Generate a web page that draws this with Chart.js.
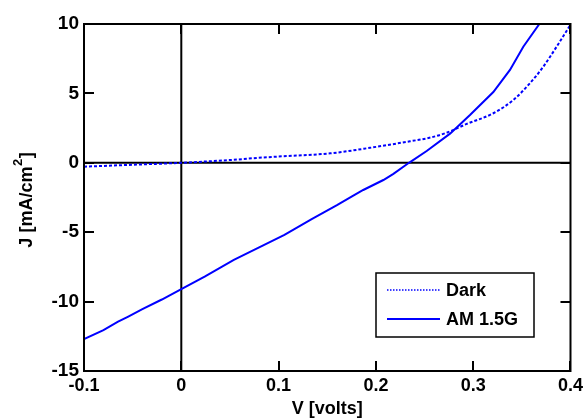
<!DOCTYPE html>
<html>
<head>
<meta charset="utf-8">
<script src="https://cdn.jsdelivr.net/npm/chart.js@4/dist/chart.umd.min.js"></script>
<style>
  body { margin: 0; background: #fff; }
  canvas { display: block; }
</style>
</head>
<body>
<canvas id="ivChart" width="587" height="418"></canvas>
<script>
// Courbes J-V (dark / AM 1.5G)
const seriesNames = ["Dark", "AM 1.5G"];

const darkV = [-0.1, -0.05, 0, 0.05, 0.084, 0.1, 0.153, 0.194, 0.235, 0.255, 0.272, 0.2933, 0.3207, 0.3412, 0.3583, 0.372, 0.3857, 0.4];
const darkJ = [-0.28, -0.14, 0, 0.2, 0.38, 0.45, 0.68, 1.08, 1.55, 1.8, 2.15, 2.8, 3.57, 4.52, 5.73, 6.92, 8.36, 9.95];

const lightV = [-0.1, -0.08, -0.065, -0.055, -0.04, -0.02, 0, 0.024, 0.054, 0.08, 0.106, 0.134, 0.16, 0.175, 0.187, 0.2077, 0.218, 0.234, 0.2522, 0.2762, 0.2967, 0.3207, 0.3378, 0.3515, 0.368, 0.372];
const lightJ = [-12.7, -12.05, -11.45, -11.1, -10.55, -9.85, -9.1, -8.2, -7.0, -6.1, -5.2, -4.05, -3.05, -2.44, -1.96, -1.24, -0.8, 0.0, 0.85, 2.1, 3.44, 5.1, 6.69, 8.36, 10.0, 10.4];

const xTickValues = [-0.1, 0, 0.1, 0.2, 0.3, 0.4];
const xTickLabels = ["-0.1", "0", "0.1", "0.2", "0.3", "0.4"];
const yTickValues = [-15, -10, -5, 0, 5, 10];
const yTickLabels = ["-15", "-10", "-5", "0", "5", "10"];

const FONT = "'Liberation Sans', Arial, Helvetica, sans-serif";
const BLUE = "rgb(0,0,255)";

function toPoints(xs, ys) {
    return xs.map((x, i) => ({ x: x, y: ys[i] }));
}

// Cadre, axes à zéro, graduations intérieures, titre Y et légende
const axesPlugin = {
    id: "matlabAxes",
    beforeDatasetsDraw(chart) {
        const { ctx, chartArea: a, scales } = chart;
        const x0 = scales.x.getPixelForValue(0);
        const y0 = scales.y.getPixelForValue(0);
        ctx.save();
        ctx.strokeStyle = "#000";
        ctx.lineWidth = 2;
        ctx.beginPath();
        ctx.moveTo(x0, a.top); ctx.lineTo(x0, a.bottom);
        ctx.moveTo(a.left, y0); ctx.lineTo(a.right, y0);
        ctx.stroke();
        ctx.restore();
    },
    afterDatasetsDraw(chart) {
        const { ctx, chartArea: a, scales } = chart;
        const len = 10;
        ctx.save();
        ctx.strokeStyle = "#000";
        ctx.lineWidth = 2;
        ctx.strokeRect(a.left, a.top, a.right - a.left, a.bottom - a.top);
        ctx.beginPath();
        xTickValues.forEach(v => {
            const px = Math.round(scales.x.getPixelForValue(v));
            ctx.moveTo(px, a.bottom); ctx.lineTo(px, a.bottom - len);
            ctx.moveTo(px, a.top); ctx.lineTo(px, a.top + len);
        });
        yTickValues.forEach(v => {
            const py = Math.round(scales.y.getPixelForValue(v));
            ctx.moveTo(a.left, py); ctx.lineTo(a.left + len, py);
            ctx.moveTo(a.right, py); ctx.lineTo(a.right - len, py);
        });
        ctx.stroke();

        // titre de l'axe Y avec exposant
        ctx.fillStyle = "#000";
        ctx.textBaseline = "alphabetic";
        ctx.textAlign = "left";
        const main = "J [mA/cm";
        const sup = "2";
        const end = "]";
        ctx.font = "bold 18px " + FONT;
        const wMain = ctx.measureText(main).width;
        const wEnd = ctx.measureText(end).width;
        ctx.font = "bold 13px " + FONT;
        const wSup = ctx.measureText(sup).width;
        const total = wMain + wSup + wEnd;
        const cy = (a.top + a.bottom) / 2 + 3;
        ctx.translate(32, cy + total / 2);
        ctx.rotate(-Math.PI / 2);
        ctx.font = "bold 18px " + FONT;
        ctx.fillText(main, 0, 0);
        ctx.font = "bold 13px " + FONT;
        ctx.fillText(sup, wMain + 0.5, -10);
        ctx.font = "bold 18px " + FONT;
        ctx.fillText(end, wMain + wSup + 1, 0);
        ctx.setTransform(1, 0, 0, 1, 0, 0);

        // légende dans la zone du graphique
        const bx = 376, by = 273, bw = 158, bh = 64;
        ctx.fillStyle = "#fff";
        ctx.fillRect(bx, by, bw, bh);
        ctx.lineWidth = 1.5;
        ctx.strokeStyle = "#000";
        ctx.strokeRect(bx, by, bw, bh);
        chart.data.datasets.forEach((ds, i) => {
            const ry = by + 17 + i * 29;
            ctx.beginPath();
            ctx.strokeStyle = ds.borderColor;
            ctx.lineWidth = i === 0 ? 1.5 : 2;
            ctx.setLineDash(i === 0 ? [1.5, 1.5] : []);
            ctx.moveTo(bx + 11, ry);
            ctx.lineTo(bx + 64, ry);
            ctx.stroke();
            ctx.setLineDash([]);
            ctx.fillStyle = "#000";
            ctx.font = "bold 18px " + FONT;
            ctx.textBaseline = "middle";
            ctx.fillText(ds.label, bx + 70, ry + 1);
        });
        ctx.restore();
    }
};

const ctx = document.getElementById("ivChart").getContext("2d");

const ivChart = new Chart(ctx, {
    type: "line",
    data: {
        datasets: [
            {
                label: seriesNames[0],
                data: toPoints(darkV, darkJ),
                borderColor: BLUE,
                borderWidth: 2,
                borderDash: [3, 2],
                pointRadius: 0,
                cubicInterpolationMode: "monotone",
                fill: false
            },
            {
                label: seriesNames[1],
                data: toPoints(lightV, lightJ),
                borderColor: BLUE,
                borderWidth: 2,
                pointRadius: 0,
                tension: 0,
                fill: false
            }
        ]
    },
    options: {
        responsive: false,
        animation: false,
        layout: { padding: { top: 24, right: 16, left: 0, bottom: 0 } },
        plugins: {
            legend: { display: false },
            tooltip: { enabled: false }
        },
        scales: {
            x: {
                type: "linear",
                min: -0.1,
                max: 0.4,
                afterBuildTicks(scale) {
                    scale.ticks = xTickValues.map(v => ({ value: v }));
                },
                afterFit(scale) { scale.height = 47; },
                grid: { display: false, drawTicks: false },
                border: { display: false },
                ticks: {
                    padding: 4,
                    color: "#000",
                    font: { family: FONT, size: 18, weight: "bold" },
                    maxRotation: 0,
                    callback: (v, i) => xTickLabels[i]
                },
                title: {
                    display: true,
                    text: "V [volts]",
                    color: "#000",
                    padding: 0,
                    font: { family: FONT, size: 18, weight: "bold", lineHeight: 1 }
                }
            },
            y: {
                type: "linear",
                min: -15,
                max: 10,
                afterBuildTicks(scale) {
                    scale.ticks = yTickValues.map(v => ({ value: v }));
                },
                afterFit(scale) { scale.width = 84; },
                grid: { display: false, drawTicks: false },
                border: { display: false },
                ticks: {
                    padding: 5,
                    color: "#000",
                    font: { family: FONT, size: 19, weight: "bold" },
                    callback: (v, i) => yTickLabels[i]
                }
            }
        }
    },
    plugins: [axesPlugin]
});
</script>
</body>
</html>
